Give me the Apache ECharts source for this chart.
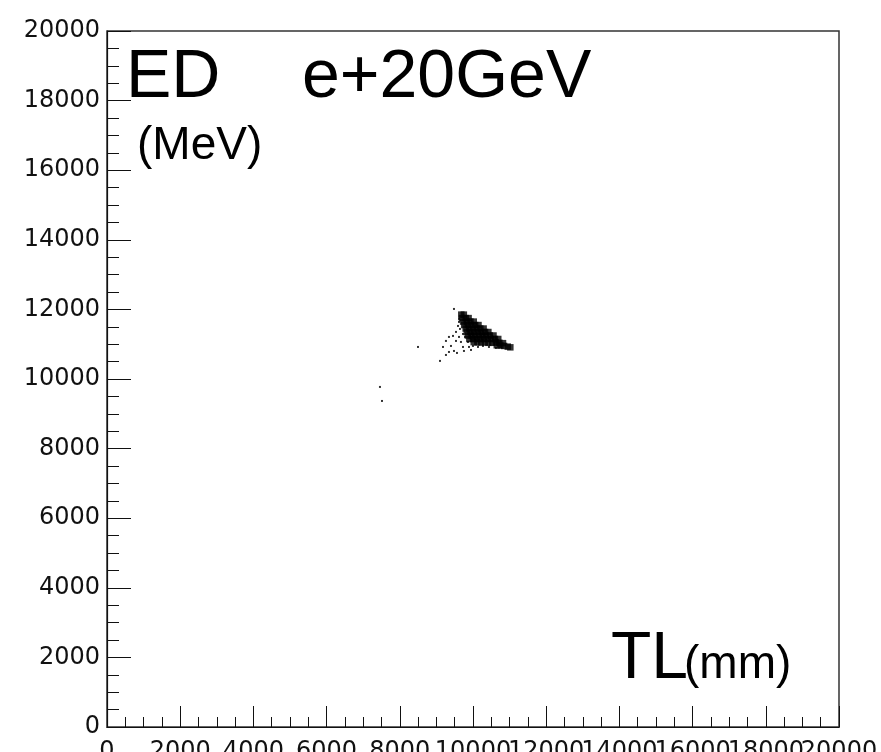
<!DOCTYPE html>
<html>
<head>
<meta charset="utf-8">
<script src="https://cdn.jsdelivr.net/npm/echarts@6/dist/echarts.min.js"></script>
<style>
  html, body { margin: 0; padding: 0; background: #fff; }
  #chart { width: 881px; height: 752px; }
</style>
</head>
<body>
<div id="chart"></div>
<script>
// Tick values for both axes (TL in mm, ED in MeV)
const xTicks = [0, 2000, 4000, 6000, 8000, 10000, 12000, 14000, 16000, 18000, 20000];
const yTicks = [0, 2000, 4000, 6000, 8000, 10000, 12000, 14000, 16000, 18000, 20000];

// Dense core of the e+ 20 GeV events: [TL (mm), ED (MeV)]
const coreEvents = [
  [9680, 11850], [9750, 11850],
  [9700, 11750], [9800, 11750], [9880, 11750],
  [9730, 11650], [9830, 11650], [9930, 11650], [10020, 11650],
  [9760, 11550], [9860, 11550], [9960, 11550], [10060, 11550], [10150, 11550],
  [9800, 11450], [9900, 11450], [10000, 11450], [10100, 11450], [10200, 11450], [10290, 11450],
  [9830, 11350], [9930, 11350], [10030, 11350], [10130, 11350], [10230, 11350], [10330, 11350], [10420, 11350],
  [9860, 11250], [9960, 11250], [10060, 11250], [10160, 11250], [10260, 11250], [10360, 11250], [10460, 11250], [10560, 11250],
  [9900, 11150], [10000, 11150], [10100, 11150], [10200, 11150], [10300, 11150], [10400, 11150], [10500, 11150], [10600, 11150], [10690, 11150],
  [10020, 11060], [10120, 11050], [10220, 11050], [10320, 11050], [10420, 11040], [10520, 11040], [10620, 11050], [10720, 11040], [10820, 11030],
  [10650, 10970], [10750, 10960], [10850, 10950], [10950, 10930], [11020, 10910]
];

// Scattered events around the core
const sparseEvents = [
  [9480, 12013], [9617, 11726], [9617, 11640], [9590, 11525], [9644, 11439],
  [9535, 11353], [9726, 11295], [9453, 11238], [9343, 11209], [9617, 11209],
  [9781, 11209], [9261, 11094], [9535, 11094], [9671, 11065], [9863, 11065],
  [9180, 10921], [9398, 10950], [9480, 10806], [9343, 10777], [9562, 10749],
  [9726, 10921], [9890, 10921], [9999, 10950], [10136, 10921], [10272, 10950],
  [10436, 10921], [10627, 10892], [10764, 10921], [9261, 10691], [9753, 10806],
  [9945, 10835], [8497, 10921], [9098, 10520], [7458, 9772], [7513, 9369]
];

const labelFont = 'DejaVu Sans';
const tickColor = '#111';

const chart = echarts.init(document.getElementById('chart'), null, { renderer: 'canvas' });

const labelStyle = {
  color: tickColor, fontFamily: labelFont, fontSize: 24,
  showMinLabel: true, showMaxLabel: true, hideOverlap: false
};

// Bottom axis: ticks plus every other label (0, 4000, ... 20000).
// A second, invisible bottom axis carries the labels in between, so the
// wide, touching labels are all kept.
const xMain = {
  type: 'value',
  position: 'bottom',
  min: xTicks[0],
  max: xTicks[xTicks.length - 1],
  interval: 2000,
  axisLine: { show: true, onZero: false, lineStyle: { color: tickColor, width: 1.2 } },
  splitLine: { show: false },
  axisTick: { show: true, inside: true, length: 21, lineStyle: { color: tickColor, width: 1 } },
  minorTick: { show: true, splitNumber: 4, length: 10, lineStyle: { color: tickColor, width: 1 } },
  axisLabel: Object.assign({}, labelStyle, {
    margin: 13,
    formatter: v => (xTicks.indexOf(v) % 2 === 0 ? String(v) : '')
  })
};
const xAlt = {
  type: 'value',
  position: 'bottom',
  gridIndex: 0,
  min: xTicks[0],
  max: xTicks[xTicks.length - 1],
  interval: 2000,
  axisLine: { show: false, onZero: false },
  splitLine: { show: false },
  axisTick: { show: false },
  minorTick: { show: false },
  axisLabel: Object.assign({}, labelStyle, {
    margin: 13,
    formatter: v => (xTicks.indexOf(v) % 2 === 1 ? String(v) : '')
  })
};

chart.setOption({
  backgroundColor: '#fff',
  animation: false,
  grid: {
    left: 107, top: 31, right: 42, bottom: 25,
    outerBoundsMode: 'none',
    containLabel: false,
    show: true, borderColor: '#333', borderWidth: 1.5, backgroundColor: 'transparent'
  },
  xAxis: [xMain, xAlt],
  yAxis: {
    type: 'value',
    min: yTicks[0],
    max: yTicks[yTicks.length - 1],
    interval: 2000,
    axisLine: { show: true, onZero: false, lineStyle: { color: tickColor, width: 1.2 } },
    splitLine: { show: false },
    axisTick: { show: true, inside: true, length: 24, lineStyle: { color: tickColor, width: 1 } },
    minorTick: { show: true, splitNumber: 4, length: 12, lineStyle: { color: tickColor, width: 1 } },
    axisLabel: Object.assign({}, labelStyle, {
      margin: 7,
      formatter: v => (yTicks.includes(v) ? String(v) : '')
    })
  },
  series: [
    {
      type: 'scatter',
      xAxisIndex: 0,
      data: coreEvents,
      symbol: 'rect',
      symbolSize: 6.5,
      itemStyle: { color: '#000' },
      silent: true
    },
    {
      type: 'scatter',
      xAxisIndex: 0,
      data: sparseEvents,
      symbol: 'rect',
      symbolSize: 2,
      itemStyle: { color: '#000' },
      silent: true
    }
  ],
  graphic: [
    { type: 'text', x: 126, y: 78, style: { text: 'ED', font: '68px "Liberation Sans"', fill: '#000', textVerticalAlign: 'middle' } },
    { type: 'text', x: 302, y: 78, style: { text: 'e+20GeV', font: '68px "Liberation Sans"', fill: '#000', textVerticalAlign: 'middle' } },
    { type: 'text', x: 137, y: 146, style: { text: '(MeV)', font: '46px "Liberation Sans"', fill: '#000', textVerticalAlign: 'middle' } },
    { type: 'text', x: 611, y: 660, style: { text: 'TL', font: '66px "Liberation Sans"', fill: '#000', textVerticalAlign: 'middle' } },
    { type: 'text', x: 684, y: 665, style: { text: '(mm)', font: '46px "Liberation Sans"', fill: '#000', textVerticalAlign: 'middle' } }
  ]
});
</script>
</body>
</html>
